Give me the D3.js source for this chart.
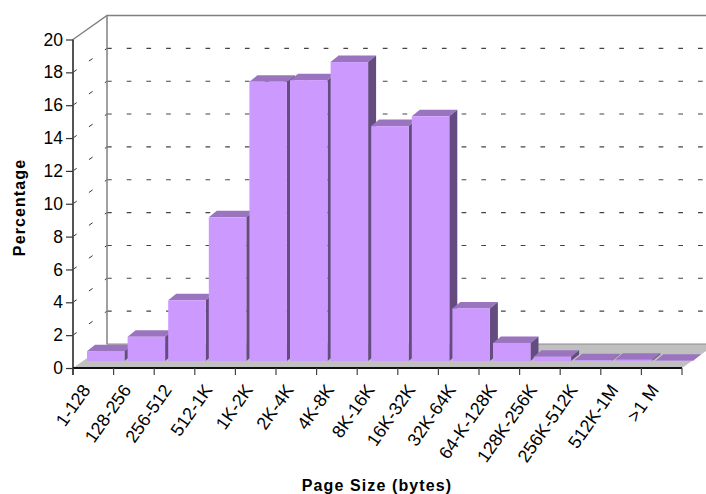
<!DOCTYPE html>
<html>
<head>
<meta charset="utf-8">
<script src="https://cdn.jsdelivr.net/npm/d3@7/dist/d3.min.js"></script>
<style>
html,body{margin:0;padding:0;background:#fff}
svg{display:block}
text{font-family:"Liberation Sans",Arial,sans-serif;fill:#000}
</style>
</head>
<body>
<div id="chart"></div>
<script>
const categories = ["1-128","128-256","256-512","512-1K","1K-2K","2K-4K","4K-8K","8K-16K","16K-32K","32K-64K","64-K-128K","128K-256K","256K-512K","512K-1M",">1 M"];
const percentages = [0.6,1.47,3.7,8.75,17.0,17.1,18.2,14.3,14.9,3.2,1.1,0.26,0.05,0.07,0.02];
const valueTicks = [0,2,4,6,8,10,12,14,16,18,20];

const width = 706, height = 494;
const left = 73, right = 682, floorY = 368, topY = 39.5;
const wallDx = 34, wallDy = 24;          // depth of the whole plot box
const barDx = 8, barDy = 6.5;            // depth of one bar
const barShiftX = 14, barShiftY = 7;     // bars sit slightly behind the front edge

const svg = d3.select("#chart").append("svg").attr("width", width).attr("height", height);

const x = d3.scaleBand().domain(categories).range([left, right]).paddingInner(0).paddingOuter(0);
const y = d3.scaleLinear().domain([0, 20]).range([floorY, topY]);
const poly = pts => pts.map(p => p.join(",")).join(" ");

// Floor
svg.append("polygon")
  .attr("points", poly([[left, floorY],[right, floorY],[right + wallDx, floorY - wallDy],[left + wallDx, floorY - wallDy]]))
  .attr("fill", "#c0c0c0");
svg.append("line")
  .attr("x1", left + wallDx).attr("x2", width).attr("y1", floorY - wallDy).attr("y2", floorY - wallDy)
  .attr("stroke", "#8c8c8c").attr("stroke-width", 1);

// Dashed gridlines on the back wall and side wall
const grid = svg.append("g");
valueTicks.filter(d => d > 0 && d < 20).forEach(d => {
  const yy = y(d) - wallDy;
  grid.append("line")
    .attr("x1", left + wallDx).attr("x2", width).attr("y1", yy).attr("y2", yy)
    .attr("stroke", "#444").attr("stroke-width", 1.1)
    .attr("stroke-dasharray", "4.7 15");
  grid.append("line")
    .attr("x1", left).attr("x2", left + wallDx).attr("y1", y(d)).attr("y2", y(d) - wallDy)
    .attr("stroke", "#333").attr("stroke-width", 1)
    .attr("stroke-dasharray", "4.5 15");
});

// Back wall outline
svg.append("path")
  .attr("d", `M${left},${topY}L${left + wallDx},${topY - wallDy}L${width},${topY - wallDy}`)
  .attr("fill", "none").attr("stroke", "#808080").attr("stroke-width", 1.5);
svg.append("line")
  .attr("x1", left + wallDx).attr("x2", left + wallDx).attr("y1", topY - wallDy).attr("y2", floorY - wallDy)
  .attr("stroke", "#808080").attr("stroke-width", 1.5);

// Bars with front, top and side faces
const barW = 37.5;
const bars = svg.append("g").selectAll("g").data(categories).join("g");
bars.each(function(c, i) {
  const g = d3.select(this);
  const x0 = x(c) + barShiftX, x1 = x0 + barW;
  const y0 = y(0) - barShiftY, y1 = y(percentages[i]) - barShiftY;
  g.append("polygon").attr("points", poly([[x0, y1],[x1, y1],[x1 + barDx, y1 - barDy],[x0 + barDx, y1 - barDy]])).attr("fill", "#9b74bf");
  g.append("polygon").attr("points", poly([[x1, y0],[x1, y1],[x1 + barDx, y1 - barDy],[x1 + barDx, y0 - barDy]])).attr("fill", "#644c80");
  g.append("rect").attr("x", x0).attr("y", y1).attr("width", barW).attr("height", y0 - y1).attr("fill", "#cc99ff");
});

// Front axes
svg.append("line").attr("x1", left).attr("x2", left).attr("y1", topY).attr("y2", floorY + 7)
  .attr("stroke", "#555").attr("stroke-width", 2);
svg.append("line").attr("x1", left).attr("x2", right).attr("y1", floorY).attr("y2", floorY)
  .attr("stroke", "#111").attr("stroke-width", 2);

const yAxis = d3.axisLeft(y).tickValues(valueTicks).tickSize(7).tickPadding(3);
const yg = svg.append("g").attr("transform", `translate(${left},0)`).call(yAxis);
yg.select(".domain").remove();
yg.selectAll("line").attr("stroke", "#333").attr("stroke-width", 1.2);
yg.selectAll("text").style("font-size", "17.5px").style("font-family", '"Liberation Sans",Arial,sans-serif').attr("fill", "#000");

// Category ticks sit on band boundaries; labels hang from band centres
const tickPositions = d3.range(categories.length + 1).map(i => left + i * x.bandwidth());
svg.append("g").selectAll("line").data(tickPositions).join("line")
  .attr("x1", d => d).attr("x2", d => d).attr("y1", floorY).attr("y2", floorY + 7)
  .attr("stroke", "#444").attr("stroke-width", 1.2);

svg.append("g").selectAll("text").data(categories).join("text")
  .attr("transform", d => `translate(${x(d) + x.bandwidth() / 2 - 2},${floorY + 22}) rotate(-55)`)
  .attr("text-anchor", "end")
  .style("font-size", "18px")
  .text(d => d);

// Axis titles
svg.append("text").attr("transform", "translate(25,207.5) rotate(-90)")
  .attr("text-anchor", "middle").style("font-size", "16px").style("font-weight", "bold").style("letter-spacing", "1.1px")
  .text("Percentage");
svg.append("text").attr("x", 377).attr("y", 491)
  .attr("text-anchor", "middle").style("font-size", "16px").style("font-weight", "bold").style("letter-spacing", "1.1px")
  .text("Page Size (bytes)");
</script>
</body>
</html>
